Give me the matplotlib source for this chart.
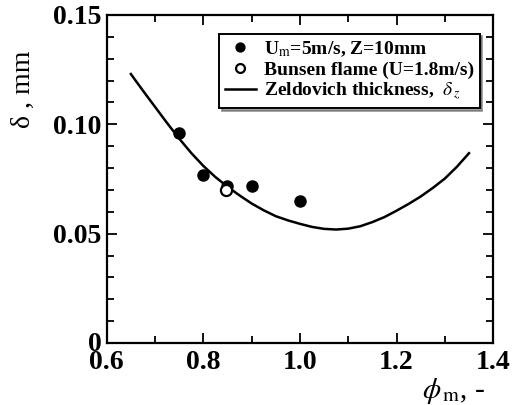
import numpy as np
import matplotlib.pyplot as plt
from matplotlib.ticker import MultipleLocator

plt.rcParams['font.family'] = ['Liberation Serif', 'DejaVu Serif']
plt.rcParams['mathtext.fontset'] = 'stix'

# measured flame thickness, Um=5m/s, Z=10mm
phi_meas = [0.75, 0.80, 0.85, 0.90, 1.00]
delta_meas = [0.096, 0.0767, 0.0716, 0.0716, 0.0651]

# bunsen flame
phi_bunsen = [0.847]
delta_bunsen = [0.0698]

# Zeldovich thickness
phi_z = [0.65, 0.675, 0.70, 0.725, 0.75, 0.775, 0.80, 0.825, 0.85, 0.875,
         0.90, 0.925, 0.95, 0.975, 1.00, 1.025, 1.05, 1.075, 1.10, 1.125,
         1.15, 1.175, 1.20, 1.225, 1.25, 1.275, 1.30, 1.325, 1.35]
delta_z = [0.123, 0.1154, 0.108, 0.1006, 0.0935, 0.0869, 0.081, 0.0759,
           0.0715, 0.0675, 0.0638, 0.0607, 0.058, 0.0561, 0.0545, 0.0531,
           0.0522, 0.0519, 0.0523, 0.0534, 0.0553, 0.0576, 0.0605, 0.0636,
           0.067, 0.0709, 0.0752, 0.0806, 0.0868]

fig = plt.figure(figsize=(5.18, 4.05), dpi=100)
ax = fig.add_axes([0.206, 0.153, 0.746, 0.810])

ax.plot(phi_z, delta_z, '-', color='black', lw=1.8,
        label=r'Zeldovich thickness,  $\delta_{\,z}$')
ax.plot(phi_meas, delta_meas, 'o', color='black', ms=8,
        label=r'U$_{\rm m}$=5m/s, Z=10mm')
ax.plot(phi_bunsen, delta_bunsen, 'o', mfc='white', mec='black', mew=1.6, ms=8,
        label='Bunsen flame (U=1.8m/s)')

ax.set_xlim(0.6, 1.4)
ax.set_ylim(0, 0.15)
ax.xaxis.set_minor_locator(MultipleLocator(0.1))
ax.yaxis.set_minor_locator(MultipleLocator(0.01))
ax.set_xticks([0.6, 0.8, 1.0, 1.2, 1.4])
ax.set_xticklabels(['0.6', '0.8', '1.0', '1.2', '1.4'])
ax.set_yticks([0, 0.05, 0.10, 0.15])
ax.set_yticklabels(['', '0.05', '0.10', '0.15'])
ax.tick_params(which='both', direction='in', top=True, right=True,
               labelsize=20, width=1.3)
ax.tick_params(which='major', length=7)
ax.tick_params(axis='x', which='major', pad=5)
ax.tick_params(axis='y', which='major', pad=4)
ax.tick_params(which='minor', length=5)
for lab in ax.get_xticklabels() + ax.get_yticklabels():
    lab.set_fontweight('bold')
# the zero label sits just above the x tick labels
ax.annotate('0', xy=(0, 0), xycoords=('axes fraction', 'data'),
            xytext=(-5, -14), textcoords='offset pixels',
            ha='right', va='bottom', fontsize=20, fontweight='bold')
for sp in ax.spines.values():
    sp.set_linewidth(1.6)

fig.text(0.045, 0.78, 'δ , mm', rotation=90, fontsize=20,
         ha='center', va='center')
fig.text(0.875, 0.035, r'$\phi_{\,\rm m}$, -', fontsize=21,
         ha='center', va='center')

h, l = ax.get_legend_handles_labels()
order = [1, 2, 0]
leg = ax.legend([h[i] for i in order], [l[i] for i in order],
                loc='upper right', bbox_to_anchor=(0.975, 0.955),
                fontsize=14, frameon=True, fancybox=False, shadow=True,
                markerscale=0.8, handlelength=1.6, handletextpad=0.4,
                borderpad=0.3, labelspacing=0.1, borderaxespad=0.2)
leg.get_frame().set_edgecolor('black')
leg.get_frame().set_linewidth(1.4)
for t in leg.get_texts():
    t.set_fontweight('bold')

fig.savefig('out.png', dpi=100)
